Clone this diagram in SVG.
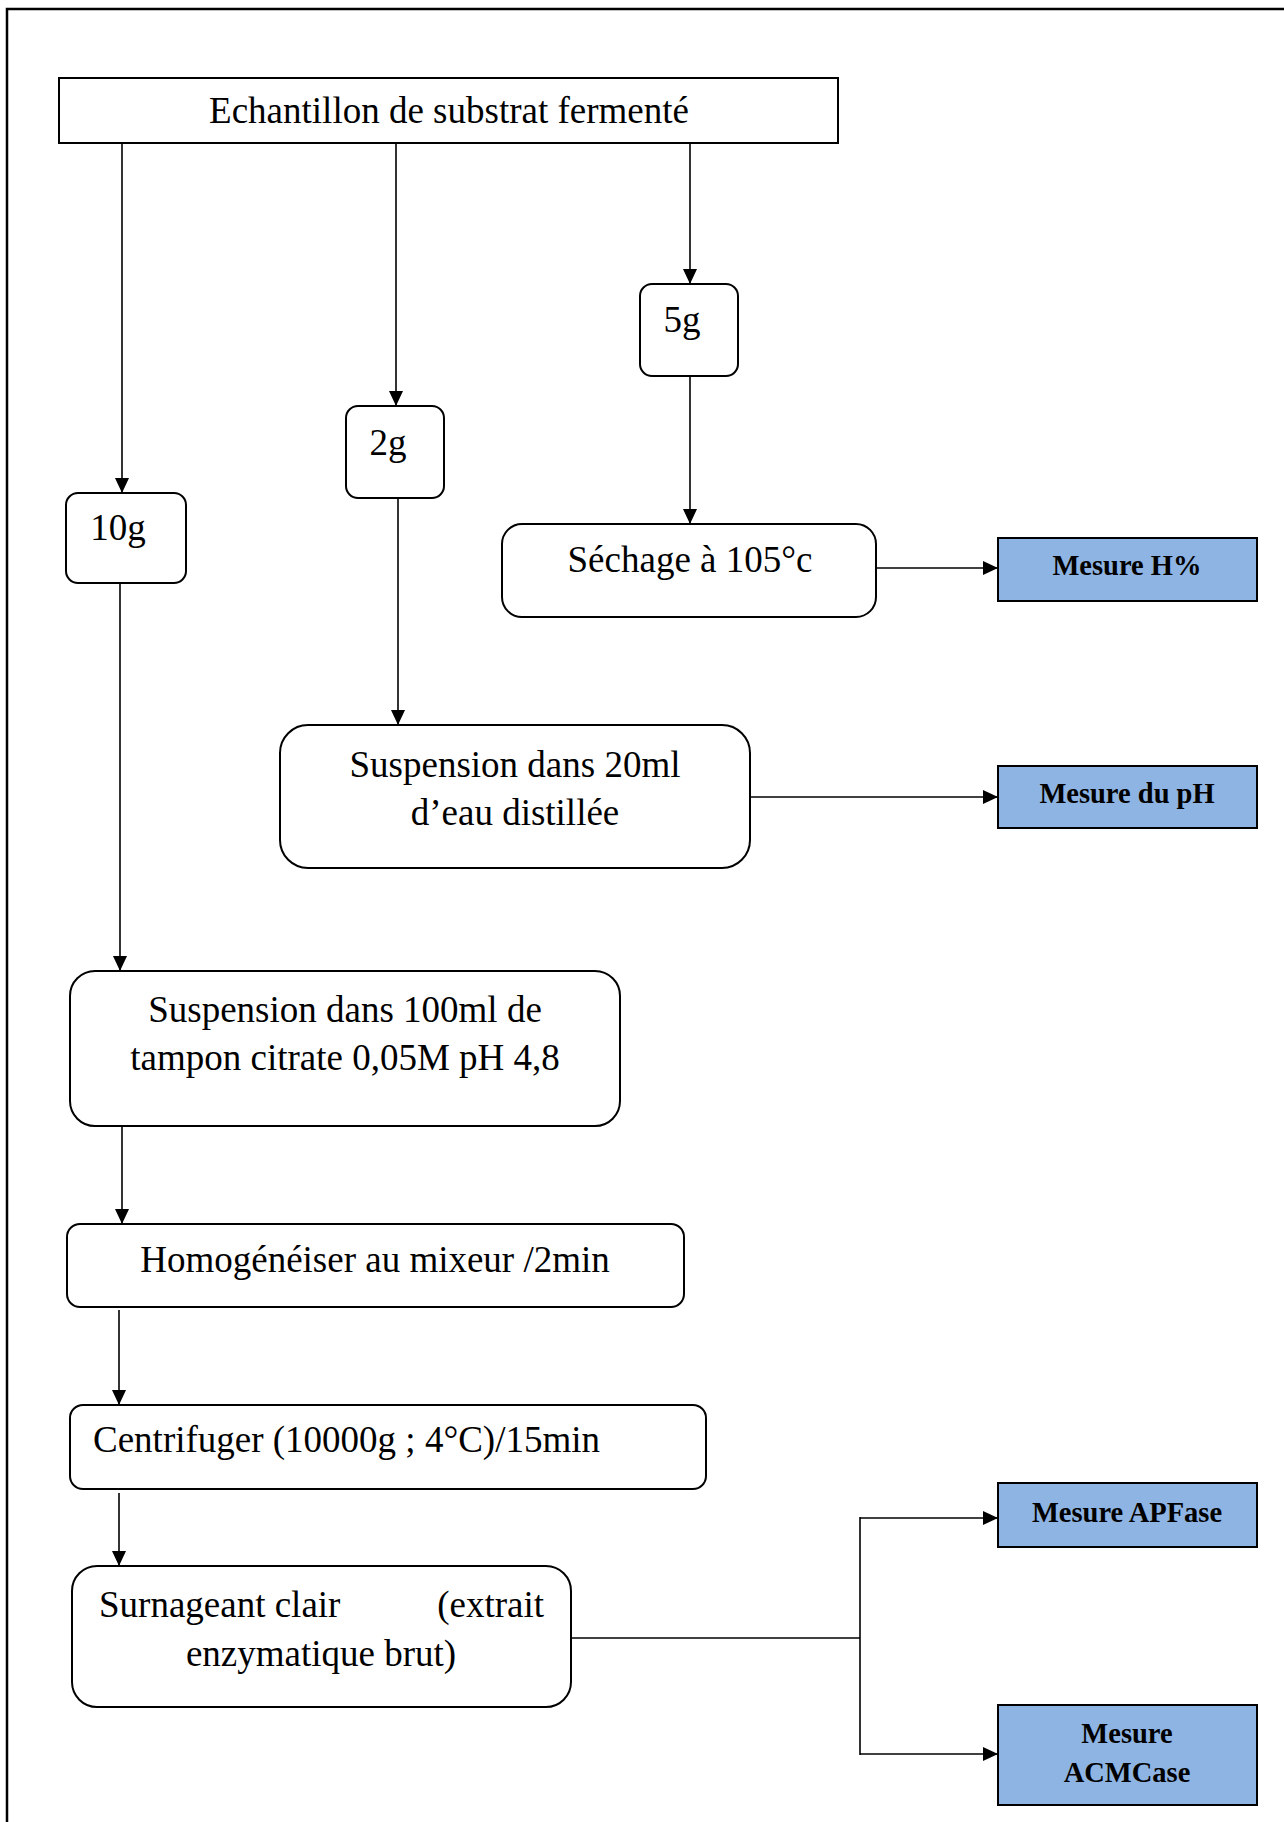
<svg xmlns="http://www.w3.org/2000/svg" width="1284" height="1822" viewBox="0 0 1284 1822">
<style>
.box{fill:#fff;stroke:#000;stroke-width:2}
.blue{fill:#8EB4E3;stroke:#000;stroke-width:2}
.t{font-family:"Liberation Serif","Times New Roman",serif;font-size:37px;fill:#000}
.c{text-anchor:middle}
.b{font-family:"Liberation Serif","Times New Roman",serif;font-size:28.5px;font-weight:bold;fill:#000;text-anchor:middle}
.ln{stroke:#000;stroke-width:1.6;fill:none}
</style>
<defs>
<marker id="ah" markerUnits="userSpaceOnUse" markerWidth="16" markerHeight="14" refX="15" refY="7" orient="auto">
<path d="M0,0 L15,7 L0,14 Z" fill="#000"/>
</marker>
</defs>
<rect width="1284" height="1822" fill="#fff"/>
<path d="M1290,9 H7 V1830" fill="none" stroke="#000" stroke-width="2.5"/>

<g id="connectors">
<line class="ln" x1="122" y1="143" x2="122" y2="493" marker-end="url(#ah)"/>
<line class="ln" x1="396" y1="143" x2="396" y2="406" marker-end="url(#ah)"/>
<line class="ln" x1="690" y1="143" x2="690" y2="284" marker-end="url(#ah)"/>
<line class="ln" x1="690" y1="376" x2="690" y2="524" marker-end="url(#ah)"/>
<line class="ln" x1="876" y1="568" x2="998" y2="568" marker-end="url(#ah)"/>
<line class="ln" x1="398" y1="498" x2="398" y2="725" marker-end="url(#ah)"/>
<line class="ln" x1="750" y1="797" x2="998" y2="797" marker-end="url(#ah)"/>
<line class="ln" x1="120" y1="583" x2="120" y2="971" marker-end="url(#ah)"/>
<line class="ln" x1="122" y1="1126" x2="122" y2="1224" marker-end="url(#ah)"/>
<line class="ln" x1="119" y1="1310" x2="119" y2="1405" marker-end="url(#ah)"/>
<line class="ln" x1="119" y1="1493" x2="119" y2="1566" marker-end="url(#ah)"/>
<line class="ln" x1="571" y1="1638" x2="860" y2="1638"/>
<line class="ln" x1="860" y1="1517" x2="860" y2="1755"/>
<line class="ln" x1="860" y1="1518" x2="998" y2="1518" marker-end="url(#ah)"/>
<line class="ln" x1="860" y1="1754" x2="998" y2="1754" marker-end="url(#ah)"/>
</g>

<g id="n-echantillon">
<rect class="box" x="59" y="78" width="779" height="65"/>
<text class="t c" x="449" y="123">Echantillon de substrat fermenté</text>
</g>
<g id="n-10g">
<rect class="box" x="66" y="493" width="120" height="90" rx="12"/>
<text class="t c" x="118" y="540">10g</text>
</g>
<g id="n-2g">
<rect class="box" x="346" y="406" width="98" height="92" rx="12"/>
<text class="t c" x="388" y="455">2g</text>
</g>
<g id="n-5g">
<rect class="box" x="640" y="284" width="98" height="92" rx="12"/>
<text class="t c" x="682" y="332">5g</text>
</g>
<g id="n-sechage">
<rect class="box" x="502" y="524" width="374" height="93" rx="20"/>
<text class="t c" x="690" y="572">Séchage à 105°c</text>
</g>
<g id="n-mesure-h">
<rect class="blue" x="998" y="538" width="259" height="63"/>
<text class="b" x="1127" y="575">Mesure H%</text>
</g>
<g id="n-suspension20">
<rect class="box" x="280" y="725" width="470" height="143" rx="28"/>
<text class="t c" x="515" y="777">Suspension dans 20ml</text>
<text class="t c" x="515" y="825">d’eau distillée</text>
</g>
<g id="n-mesure-ph">
<rect class="blue" x="998" y="766" width="259" height="62"/>
<text class="b" x="1127" y="803">Mesure du pH</text>
</g>
<g id="n-suspension100">
<rect class="box" x="70" y="971" width="550" height="155" rx="25"/>
<text class="t c" x="345" y="1022">Suspension dans 100ml de</text>
<text class="t c" x="345" y="1070">tampon citrate 0,05M pH 4,8</text>
</g>
<g id="n-homogeneiser">
<rect class="box" x="67" y="1224" width="617" height="83" rx="13"/>
<text class="t c" x="375" y="1272">Homogénéiser au mixeur /2min</text>
</g>
<g id="n-centrifuger">
<rect class="box" x="70" y="1405" width="636" height="84" rx="13"/>
<text class="t" x="93" y="1452">Centrifuger (10000g ; 4°C)/15min</text>
</g>
<g id="n-surnageant">
<rect class="box" x="72" y="1566" width="499" height="141" rx="25"/>
<text class="t" x="99" y="1617">Surnageant clair</text>
<text class="t" x="544" y="1617" text-anchor="end">(extrait</text>
<text class="t c" x="321" y="1666">enzymatique brut)</text>
</g>
<g id="n-apfase">
<rect class="blue" x="998" y="1483" width="259" height="64"/>
<text class="b" x="1127" y="1522">Mesure APFase</text>
</g>
<g id="n-acmcase">
<rect class="blue" x="998" y="1705" width="259" height="100"/>
<text class="b" x="1127" y="1743">Mesure</text>
<text class="b" x="1127" y="1782">ACMCase</text>
</g>
</svg>
